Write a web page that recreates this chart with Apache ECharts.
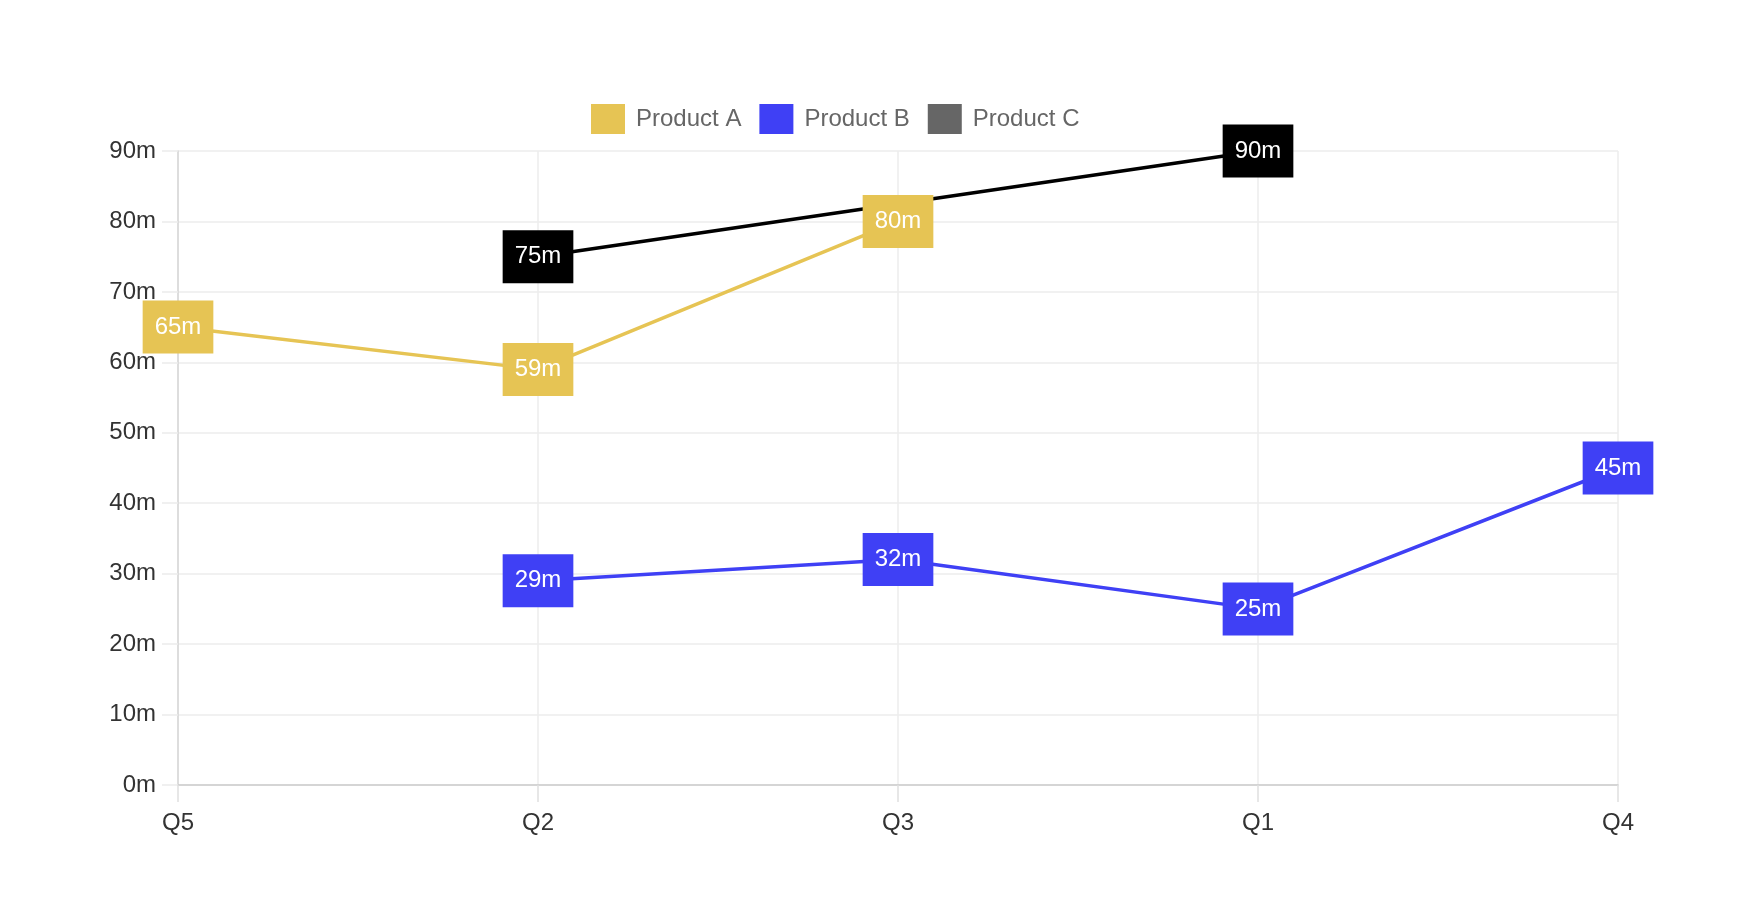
<!DOCTYPE html>
<html>
<head>
<meta charset="utf-8">
<script src="https://cdn.jsdelivr.net/npm/echarts@6/dist/echarts.min.js"></script>
<style>
html,body{margin:0;padding:0;background:#fff;}
#chart{width:1764px;height:911px;}
</style>
</head>
<body>
<div id="chart"></div>
<script>
var categories = ['Q5', 'Q2', 'Q3', 'Q1', 'Q4'];
var seriesNames = ['Product A', 'Product B', 'Product C'];
var productA = [65, 59, 80, null, null];
var productB = [null, 29, 32, 25, 45];
var productC = [null, 75, null, 90, null];
var yTicks = [0, 10, 20, 30, 40, 50, 60, 70, 80, 90];

var FONT = '"Liberation Sans", Arial, Helvetica, sans-serif';
var colA = '#E6C454';
var colB = '#3F40F5';
var colC = '#000000';
var legendC = '#666666';

function labelCfg(bg) {
  return {
    show: true,
    position: 'inside',
    formatter: function (p) { return p.value + 'm'; },
    color: '#ffffff',
    fontSize: 24,
    fontFamily: FONT,
    backgroundColor: bg,
    padding: [15, 12, 14, 12],
    lineHeight: 24
  };
}

var chart = echarts.init(document.getElementById('chart'), null, {renderer: 'canvas'});
chart.setOption({
  animation: false,
  backgroundColor: '#ffffff',
  textStyle: {fontFamily: FONT},
  legend: {
    data: [
      {name: seriesNames[0], itemStyle: {color: colA}},
      {name: seriesNames[1], itemStyle: {color: colB}},
      {name: seriesNames[2], itemStyle: {color: legendC}}
    ],
    icon: 'rect',
    left: 591,
    top: 104,
    padding: 0,
    itemWidth: 34,
    itemHeight: 30,
    itemGap: 18,
    textStyle: {fontSize: 24, color: '#666666', fontFamily: FONT, padding: [0, 0, 0, 6]}
  },
  grid: {left: 178, right: 146, top: 151, bottom: 126, containLabel: false},
  xAxis: {
    type: 'category',
    data: categories,
    boundaryGap: false,
    axisLine: {show: true, lineStyle: {color: '#cccccc', width: 1.5}},
    axisTick: {show: true, length: 17, lineStyle: {color: '#e0e0e0', width: 1.5}},
    axisLabel: {color: '#333333', fontSize: 24, fontFamily: FONT, margin: 26},
    splitLine: {show: true, lineStyle: {color: '#ececec', width: 1.5}}
  },
  yAxis: {
    type: 'value',
    min: 0,
    max: 90,
    interval: 10,
    axisLine: {show: true, lineStyle: {color: '#d6d6d6', width: 1.5}},
    axisTick: {show: true, length: 16, lineStyle: {color: '#ececec', width: 1.5}},
    axisLabel: {
      color: '#333333', fontSize: 24, fontFamily: FONT, margin: 22,
      formatter: function (v) { return yTicks.indexOf(v) >= 0 ? v + 'm' : ''; }
    },
    splitLine: {show: true, lineStyle: {color: '#ececec', width: 1.5}}
  },
  series: [
    {
      name: seriesNames[0], type: 'line', data: productA,
      symbol: 'circle', symbolSize: 4,
      itemStyle: {color: colA},
      lineStyle: {color: colA, width: 3.5},
      label: labelCfg(colA)
    },
    {
      name: seriesNames[1], type: 'line', data: productB,
      symbol: 'circle', symbolSize: 4,
      itemStyle: {color: colB},
      lineStyle: {color: colB, width: 3.5},
      label: labelCfg(colB)
    },
    {
      name: seriesNames[2], type: 'line', data: productC, connectNulls: true,
      symbol: 'circle', symbolSize: 4,
      itemStyle: {color: colC},
      lineStyle: {color: colC, width: 3.5},
      label: labelCfg(colC)
    }
  ]
});
</script>
</body>
</html>
